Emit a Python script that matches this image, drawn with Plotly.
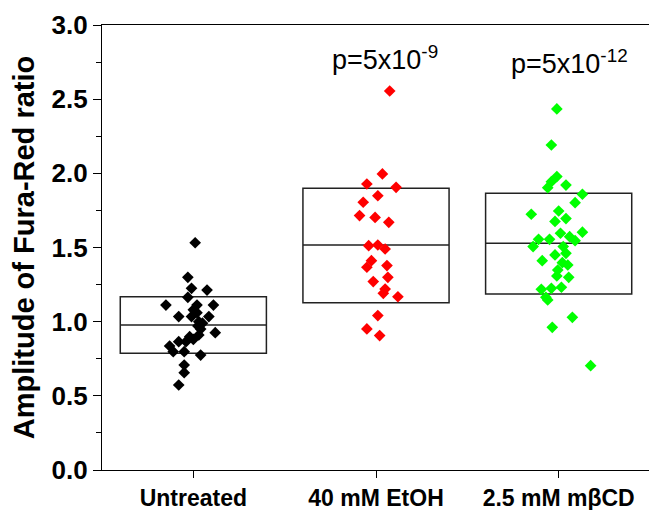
import plotly.graph_objects as go

categories = ["Untreated", "40 mM EtOH", "2.5 mM m\u03b2CD"]
colors = ["#000000", "#FF0000", "#00FF00"]

# box statistics: lower edge, median, upper edge
box_low = [0.787, 1.128, 1.187]
box_mid = [0.978, 1.517, 1.528]
box_high = [1.168, 1.899, 1.866]

untreated_vals = [1.532, 1.299, 1.225, 1.213, 1.164, 1.112, 1.112, 1.112, 1.034, 1.034,
                  1.034, 1.06, 1.00, 0.971, 0.95, 0.926, 0.910, 0.899, 0.88, 0.865,
                  0.836, 0.798, 0.865, 0.798, 0.775, 0.708, 0.656, 0.573, 1.08, 0.99]
untreated_jit = [0.01, -0.03, -0.01, 0.075, -0.03, -0.15, 0.02, 0.11, -0.08, -0.01,
                 0.085, 0.02, 0.03, 0.025, 0.04, 0.12, 0.03, -0.02, 0.0, -0.08,
                 -0.13, -0.11, -0.04, -0.05, 0.04, -0.05, -0.05, -0.08, 0.0, 0.05]

etoh_vals = [2.555, 1.996, 1.928, 1.906, 1.849, 1.805, 1.715, 1.703, 1.670, 1.512,
             1.517, 1.490, 1.411, 1.367, 1.378, 1.270, 1.299, 1.220, 1.191, 1.168,
             1.041, 0.951, 0.906]
etoh_jit = [0.075, 0.035, -0.05, 0.11, 0.01, -0.07, -0.09, -0.005, 0.07, -0.04,
            0.01, 0.05, -0.025, -0.05, 0.06, -0.015, 0.065, 0.05, 0.04, 0.12,
            0.01, -0.05, 0.02]

mbcd_vals = [2.434, 2.191, 1.978, 1.944, 1.903, 1.921, 1.859, 1.802, 1.724, 1.746,
             1.676, 1.695, 1.603, 1.555, 1.555, 1.596, 1.573, 1.546, 1.506, 1.506,
             1.461, 1.450, 1.411, 1.398, 1.382, 1.348, 1.308, 1.299, 1.218, 1.225,
             1.232, 1.164, 1.146, 1.029, 0.962, 0.703]
mbcd_jit = [-0.01, -0.04, -0.01, -0.04, -0.06, 0.04, 0.13, 0.09, -0.15, 0.0,
            -0.02, 0.04, 0.13, -0.11, -0.05, 0.01, 0.06, 0.09, -0.14, 0.025,
            0.04, -0.02, -0.09, 0.02, 0.05, -0.005, -0.01, 0.055, -0.095, -0.04,
            0.015, -0.07, -0.06, 0.075, -0.035, 0.175]

p_labels = ["", "p=5x10<sup>-9</sup>", "p=5x10<sup>-12</sup>"]
p_x = [None, 2.05, 3.06]
p_y = [None, 2.78, 2.75]

y_title = "Amplitude of Fura-Red ratio"
FONT = "Arial, Liberation Sans, sans-serif"

fig = go.Figure()

groups = [(untreated_vals, untreated_jit), (etoh_vals, etoh_jit), (mbcd_vals, mbcd_jit)]
for i, (vals, jit) in enumerate(groups):
    pos = i + 1
    fig.add_trace(go.Box(
        x=[pos], q1=[box_low[i]], median=[box_mid[i]], q3=[box_high[i]],
        lowerfence=[box_low[i]], upperfence=[box_high[i]],
        width=0.8, line=dict(color="#222222", width=1.5),
        fillcolor="rgba(0,0,0,0)", boxpoints=False, hoverinfo="skip",
        showlegend=False,
    ))
    fig.add_trace(go.Scatter(
        x=[pos + j for j in jit], y=vals, mode="markers",
        marker=dict(symbol="diamond", size=9, color=colors[i], line=dict(width=0)),
        showlegend=False,
    ))

for i, lab in enumerate(p_labels):
    if lab:
        fig.add_annotation(x=p_x[i], y=p_y[i], text=lab, showarrow=False,
                           xref="x", yref="y",
                           font=dict(family=FONT, size=27, color="black"))

fig.update_layout(
    width=649, height=502,
    margin=dict(l=94, r=7, t=17, b=40, autoexpand=False),
    plot_bgcolor="white", paper_bgcolor="white",
    font=dict(family=FONT, color="black"),
)
fig.update_xaxes(
    range=[0.5, 3.5], tickvals=[1, 2, 3], ticktext=categories,
    ticks="outside", ticklen=7, tickwidth=1, tickcolor="black",
    showline=True, linecolor="black", linewidth=1.3, mirror=True,
    showgrid=False, zeroline=False, automargin=False,
    tickfont=dict(size=23, family=FONT, weight="bold"),
)
fig.update_yaxes(
    range=[0, 3], tickvals=[0, 0.5, 1, 1.5, 2, 2.5, 3], tickformat=".1f",
    ticks="outside", ticklen=8, tickwidth=1, tickcolor="black",
    minor=dict(dtick=0.25, ticks="outside", ticklen=5, tickcolor="black", showgrid=False),
    showline=True, linecolor="black", linewidth=1.3, mirror=True,
    showgrid=False, zeroline=False, automargin=False,
    tickfont=dict(size=26, family=FONT, weight="bold"),
    title=dict(text=y_title, standoff=10,
               font=dict(size=29, family=FONT, weight="bold")),
)

fig.write_html("out.html")
